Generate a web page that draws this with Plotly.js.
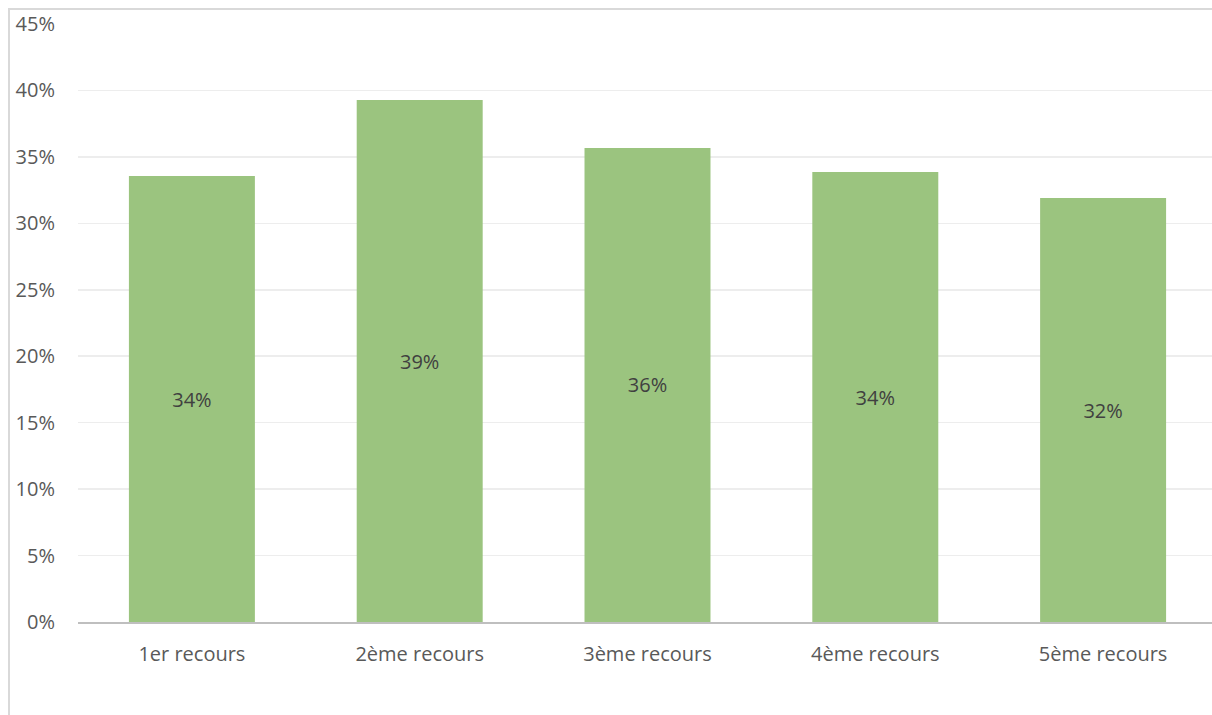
<!DOCTYPE html>
<html>
<head>
<meta charset="utf-8">
<script src="https://cdn.plot.ly/plotly-3.0.1.min.js"></script>
<style>
  html, body { margin: 0; padding: 0; overflow: hidden; background: #fff; width: 1212px; height: 715px; }
  #frame { position: absolute; left: 8px; top: 8px; width: 1204px; height: 707px; border-left: 2px solid #d9d9d9; border-top: 2px solid #d9d9d9; box-sizing: border-box; }
  #chart { position: absolute; left: 0; top: 0; width: 1212px; height: 715px; overflow: hidden; }
</style>
</head>
<body>
<div id="frame"></div>
<div id="chart"></div>
<script>
const categories = ["1er recours", "2ème recours", "3ème recours", "4ème recours", "5ème recours"];
const values = [0.3356, 0.3928, 0.3567, 0.3386, 0.319];
const yTickVals = [0, 0.05, 0.10, 0.15, 0.20, 0.25, 0.30, 0.35, 0.40, 0.45];

const font = "'Open Sans', sans-serif";

Plotly.newPlot('chart', [{
  type: 'bar',
  x: categories,
  y: values,
  marker: { color: '#9bc47f' },
  texttemplate: '%{y:.0%}',
  textposition: 'inside',
  insidetextanchor: 'middle',
  textfont: { family: font, size: 20, color: '#404040' },
  hoverinfo: 'none'
}], {
  width: 1240,
  height: 740,
  margin: { l: 78, r: 23, t: 24, b: 118 },
  paper_bgcolor: 'rgba(0,0,0,0)',
  plot_bgcolor: 'rgba(0,0,0,0)',
  bargap: 0.447,
  showlegend: false,
  font: { family: font, size: 20, color: '#595959' },
  xaxis: {
    type: 'category',
    showline: true,
    linecolor: '#bfbfbf',
    linewidth: 2,
    ticks: '',
    ticklabelstandoff: 13,
    tickfont: { family: font, size: 20, color: '#595959' }
  },
  yaxis: {
    range: [0, 0.45],
    tickvals: yTickVals,
    tickformat: '.0%',
    showgrid: true,
    gridcolor: '#ededed',
    gridwidth: 1.5,
    zeroline: false,
    showline: false,
    ticks: '',
    ticklabelstandoff: 22,
    tickfont: { family: font, size: 20, color: '#595959' }
  }
}, { displayModeBar: false, staticPlot: true });
</script>
</body>
</html>
